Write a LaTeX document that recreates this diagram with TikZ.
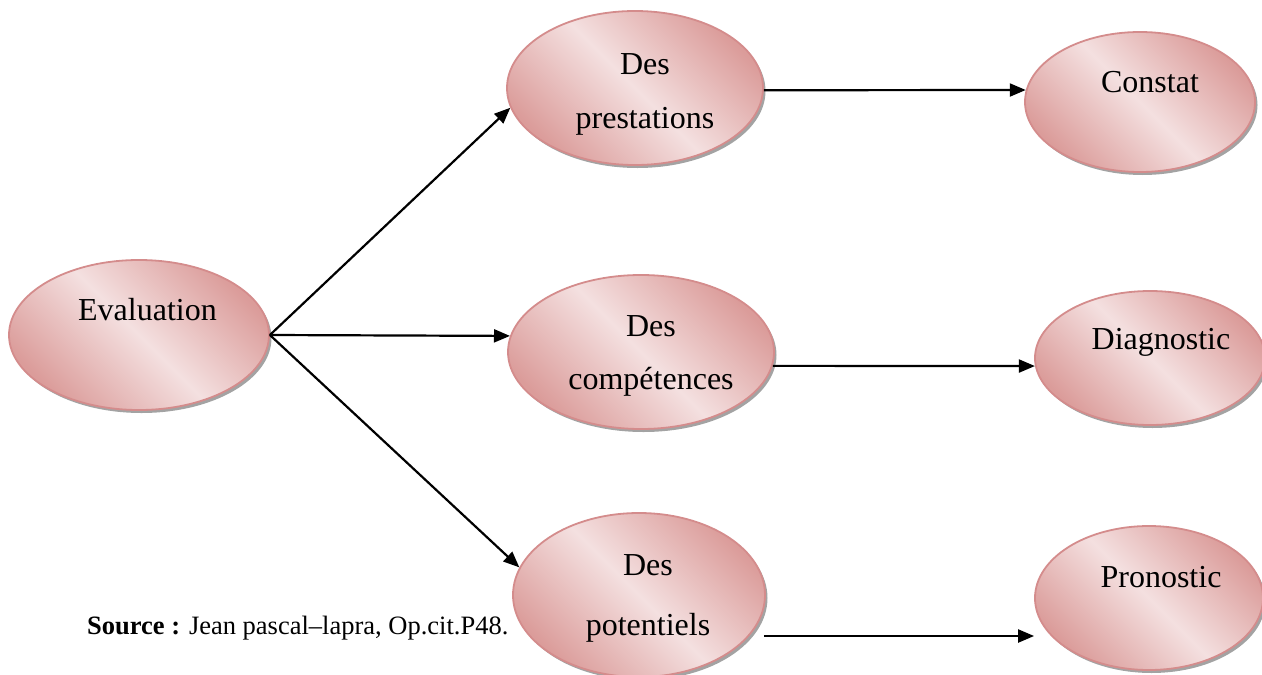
\documentclass[tikz,border=0pt]{standalone}
\usepackage{fontspec}
\setmainfont{Liberation Serif}
\usetikzlibrary{shapes.geometric,shadows,arrows.meta}
\definecolor{bubdark}{RGB}{219,156,154}
\definecolor{bublight}{RGB}{244,224,224}
\definecolor{bubedge}{RGB}{212,140,140}
\begin{document}
\begin{tikzpicture}[x=1pt,y=-1pt,
  bubble/.style={ellipse, draw=bubedge, line width=1.8pt, inner sep=0pt,
    top color=bubdark, bottom color=bubdark, middle color=bublight, shading angle=-45,
    drop shadow={shadow xshift=2.5pt, shadow yshift=-3pt, fill=black!60, opacity=0.6}},
  lbl/.style={font=\fontsize{32}{38}\selectfont, anchor=base, inner sep=0pt},
  link/.style={line width=2.2pt, -{Triangle[length=16pt,width=13pt]}}]
\clip (0,0) rectangle (1262,675);

% ellipses
\node[bubble, minimum width=260pt, minimum height=150pt] (eval) at (139,335) {};
\node[bubble, minimum width=256pt, minimum height=154pt] (pres) at (635,88) {};
\node[bubble, minimum width=230pt, minimum height=140pt] (cons) at (1140,102) {};
\node[bubble, minimum width=266pt, minimum height=154pt] (comp) at (641,352) {};
\node[bubble, minimum width=230pt, minimum height=134pt] (diag) at (1150,358) {};
\node[bubble, minimum width=252pt, minimum height=164pt] (pot) at (639,595) {};
\node[bubble, minimum width=228pt, minimum height=144pt] (pron) at (1149,598) {};

% labels
\node[lbl] (evalt) at (147.5,320) {Evaluation};
\node[lbl] (presA) at (645,74) {Des};
\node[lbl] (presB) at (645,128) {prestations};
\node[lbl] (const) at (1150,92) {Constat};
\node[lbl] (compA) at (651,336) {Des};
\node[lbl] (compB) at (651,389) {compétences};
\node[lbl] (diagt) at (1161,349) {Diagnostic};
\node[lbl] (potA) at (648,575) {Des};
\node[lbl] (potB) at (648,635) {potentiels};
\node[lbl] (pront) at (1161,587) {Pronostic};

\node[anchor=base west, inner sep=0pt, font=\fontsize{26.5}{32}\selectfont] (src) at (87,634)
  {\textbf{Source :} Jean pascal–lapra, Op.cit.P48.};

% connectors
\draw[link] (eval.east) -- (pres.189);
\draw[link] (eval.east) -- (comp.173);
\draw[link] (eval.east) -- (pot.167);
\draw[link] (pres.-1) -- (cons.174);
\draw[link] (comp.-6) -- (diag.184);
\draw[link] ([xshift=-2pt,yshift=-41pt]pot.east) -- ([yshift=-38pt]pron.west);
\end{tikzpicture}
\end{document}
